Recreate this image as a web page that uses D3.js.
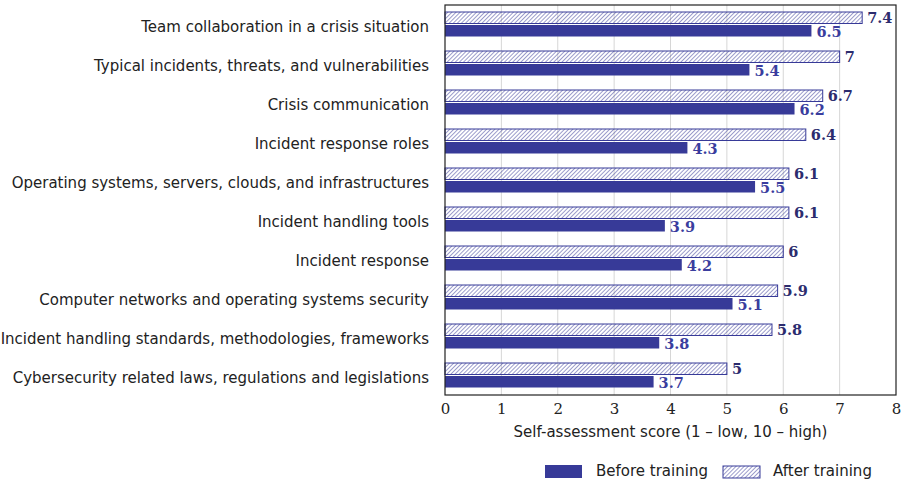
<!DOCTYPE html>
<html>
<head>
<meta charset="utf-8">
<script src="https://cdn.jsdelivr.net/npm/d3@7"></script>
<style>
  body { margin: 0; background: #fff; }
  svg text { fill: #222; }
</style>
</head>
<body>
<div id="chart"></div>
<script>
/* DATA */
const categories = [
  "Team collaboration in a crisis situation",
  "Typical incidents, threats, and vulnerabilities",
  "Crisis communication",
  "Incident response roles",
  "Operating systems, servers, clouds, and infrastructures",
  "Incident handling tools",
  "Incident response",
  "Computer networks and operating systems security",
  "Incident handling standards, methodologies, frameworks",
  "Cybersecurity related laws, regulations and legislations"
];
const beforeTraining = [6.5, 5.4, 6.2, 4.3, 5.5, 3.9, 4.2, 5.1, 3.8, 3.7];
const afterTraining = [7.4, 7, 6.7, 6.4, 6.1, 6.1, 6, 5.9, 5.8, 5];
const xTicks = [0, 1, 2, 3, 4, 5, 6, 7, 8];

/* CONSTANTS */
const width = 902,
  height = 484,
  margin = { top: 5, right: 6, bottom: 89, left: 445 };
const blue = "#373a98";
const sans = "'DejaVu Sans', sans-serif";
const serif = "'DejaVu Serif', serif";
const fs = 15;

const svg = d3.select("#chart")
  .append("svg")
  .attr("width", width)
  .attr("height", height);

// hatch for the after bars
svg.append("defs")
  .append("pattern")
  .attr("id", "hatch")
  .attr("patternUnits", "userSpaceOnUse")
  .attr("width", 2.9)
  .attr("height", 2.9)
  .attr("patternTransform", "rotate(45)")
  .append("line")
  .attr("x1", 0).attr("y1", 0)
  .attr("x2", 0).attr("y2", 2.9)
  .attr("stroke", blue)
  .attr("stroke-width", 1);

// + SCALES
const xScale = d3.scaleLinear()
  .domain([0, 8])
  .range([margin.left, width - margin.right]);

const yScale = d3.scaleBand()
  .domain(categories)
  .range([margin.top, height - margin.bottom]);

const barH = 11.5;

// grid
svg.append("g")
  .selectAll("line")
  .data(xTicks.slice(1, -1))
  .join("line")
  .attr("x1", d => xScale(d))
  .attr("x2", d => xScale(d))
  .attr("y1", margin.top)
  .attr("y2", height - margin.bottom)
  .attr("stroke", "#d6d6d6")
  .attr("stroke-width", 1);

// after bars (top)
svg.append("g")
  .selectAll("rect")
  .data(categories)
  .join("rect")
  .attr("x", xScale(0))
  .attr("y", d => yScale(d) + yScale.bandwidth() / 2 - barH - 1)
  .attr("width", (d, i) => xScale(afterTraining[i]) - xScale(0))
  .attr("height", barH)
  .attr("fill", "url(#hatch)")
  .attr("stroke", blue)
  .attr("stroke-width", 1);

// before bars (bottom)
svg.append("g")
  .selectAll("rect")
  .data(categories)
  .join("rect")
  .attr("x", xScale(0))
  .attr("y", d => yScale(d) + yScale.bandwidth() / 2 + 0.5)
  .attr("width", (d, i) => xScale(beforeTraining[i]) - xScale(0))
  .attr("height", barH)
  .attr("fill", blue);

// value labels
svg.append("g")
  .selectAll("text")
  .data(categories)
  .join("text")
  .attr("x", (d, i) => xScale(afterTraining[i]) + 5)
  .attr("y", d => yScale(d) + yScale.bandwidth() / 2 - 1.5)
  .attr("font-family", serif)
  .attr("font-weight", "bold")
  .attr("font-size", 14.5)
  .style("fill", "#2c2c6e")
  .text((d, i) => afterTraining[i]);

svg.append("g")
  .selectAll("text")
  .data(categories)
  .join("text")
  .attr("x", (d, i) => xScale(beforeTraining[i]) + 5)
  .attr("y", d => yScale(d) + yScale.bandwidth() / 2 + 12.5)
  .attr("font-family", serif)
  .attr("font-weight", "bold")
  .attr("font-size", 14.5)
  .style("fill", "#3a3d9e")
  .text((d, i) => beforeTraining[i]);

// frame
svg.append("rect")
  .attr("x", xScale(0))
  .attr("y", margin.top)
  .attr("width", xScale(8) - xScale(0))
  .attr("height", height - margin.bottom - margin.top)
  .attr("fill", "none")
  .attr("stroke", "#222")
  .attr("stroke-width", 1.2);

// + AXES
const xAxis = d3.axisBottom(xScale).tickValues(xTicks).tickSize(0).tickPadding(8);
const gx = svg.append("g")
  .attr("transform", `translate(0,${height - margin.bottom})`)
  .call(xAxis);
gx.select(".domain").remove();
gx.selectAll("text")
  .attr("font-family", serif)
  .attr("font-size", 15)
  .style("fill", "#222");

const yAxis = d3.axisLeft(yScale).tickSize(0).tickPadding(16);
const gy = svg.append("g")
  .attr("transform", `translate(${margin.left},0)`)
  .call(yAxis);
gy.select(".domain").remove();
gy.selectAll("text")
  .attr("font-family", sans)
  .attr("font-size", fs)
  .attr("dy", "0.5em")
  .style("fill", "#222");

svg.append("text")
  .attr("x", (xScale(0) + xScale(8)) / 2)
  .attr("y", height - margin.bottom + 42)
  .attr("text-anchor", "middle")
  .attr("font-family", sans)
  .attr("font-size", fs)
  .text("Self-assessment score (1 – low, 10 – high)");

// legend
const legend = svg.append("g");
legend.append("rect")
  .attr("x", 545).attr("y", 465)
  .attr("width", 37).attr("height", 13)
  .attr("fill", blue);
legend.append("text")
  .attr("x", 596).attr("y", 476)
  .attr("font-family", sans)
  .attr("font-size", fs)
  .text("Before training");
legend.append("rect")
  .attr("x", 723).attr("y", 466)
  .attr("width", 37).attr("height", 12)
  .attr("fill", "url(#hatch)")
  .attr("stroke", blue);
legend.append("text")
  .attr("x", 773).attr("y", 476)
  .attr("font-family", sans)
  .attr("font-size", fs)
  .text("After training");
</script>
</body>
</html>
